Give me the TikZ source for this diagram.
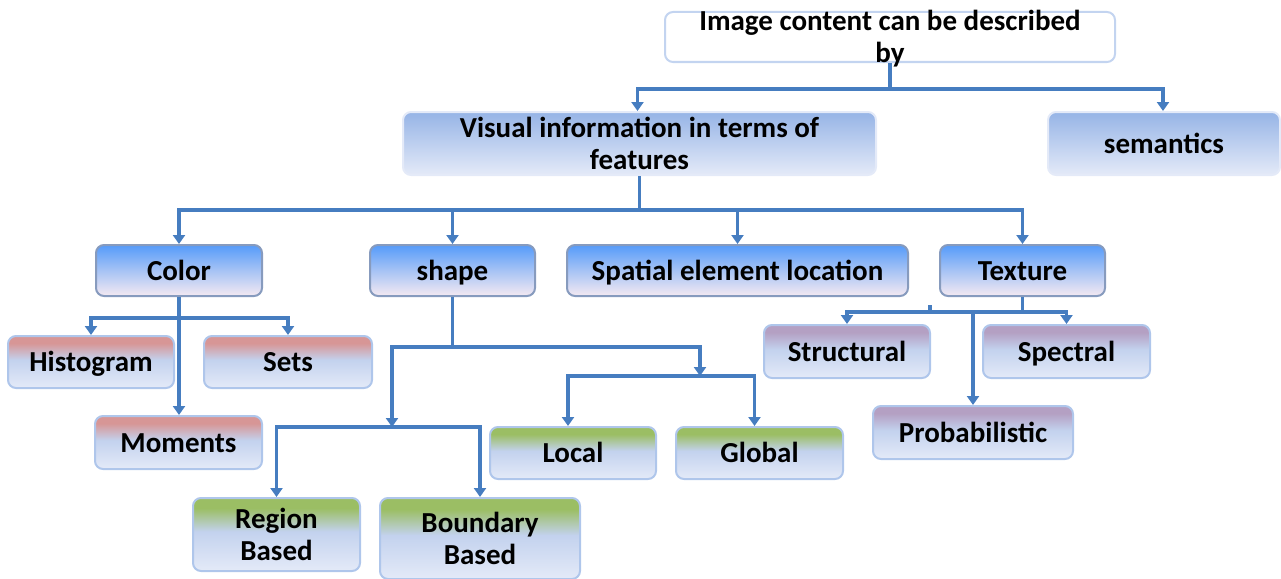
\documentclass[tikz,border=0pt]{standalone}
\usepackage{fontspec}
\setmainfont{Carlito}
\usetikzlibrary{arrows.meta}
\definecolor{conn}{RGB}{70,125,192}
\definecolor{bordA}{RGB}{135,155,190}
\definecolor{bordB}{RGB}{175,198,235}
\definecolor{topbord}{RGB}{195,212,240}
\definecolor{l1bot}{RGB}{228,234,248}
\definecolor{l1top}{RGB}{150,180,230}
\pgfdeclareverticalshading{lvlone}{100bp}{color(0bp)=(l1bot); color(25bp)=(l1bot); color(75bp)=(l1top); color(100bp)=(l1top)}
\definecolor{b1}{RGB}{238,230,242}
\definecolor{b2}{RGB}{160,192,245}
\definecolor{b3}{RGB}{85,155,250}
\pgfdeclareverticalshading{lvltwo}{100bp}{color(0bp)=(b1); color(27bp)=(b1); color(52bp)=(b2); color(75bp)=(b3); color(100bp)=(b3)}
\definecolor{lb}{RGB}{228,234,248}
\definecolor{mb}{RGB}{195,210,238}
\definecolor{rtop}{RGB}{215,150,150}
\definecolor{gtop}{RGB}{155,190,100}
\definecolor{ptop}{RGB}{180,160,195}
\pgfdeclareverticalshading{redsh}{100bp}{color(0bp)=(lb); color(25bp)=(lb); color(52bp)=(mb); color(68bp)=(rtop); color(100bp)=(rtop)}
\pgfdeclareverticalshading{greensh}{100bp}{color(0bp)=(lb); color(25bp)=(lb); color(52bp)=(mb); color(68bp)=(gtop); color(100bp)=(gtop)}
\pgfdeclareverticalshading{purpsh}{100bp}{color(0bp)=(lb); color(25bp)=(lb); color(52bp)=(mb); color(68bp)=(ptop); color(100bp)=(ptop)}
\begin{document}
\begin{tikzpicture}[x=1pt,y=-1pt,
  txt/.style={font=\fontsize{29}{32}\selectfont\bfseries, text=black, align=center},
  box/.style={txt, rounded corners=8pt, inner sep=0pt, line width=2pt},
  oneline/.style={text height=25pt, text depth=6pt},
  topbox/.style={box, draw=topbord, fill=white},
  lone/.style={box, draw=lb, shading=lvlone},
  ltwo/.style={box, oneline, draw=bordA, shading=lvltwo},
  redbox/.style={box, draw=bordB, shading=redsh},
  greenbox/.style={box, draw=bordB, shading=greensh},
  purpbox/.style={box, oneline, draw=bordB, shading=purpsh},
  line/.style={draw=conn, line width=3.4pt},
  arr/.style={line, -{Triangle[width=12pt,length=9pt]}}
]
\useasboundingbox (0,0) rectangle (1281,578);
% nodes
\node[topbox, minimum width=450pt, minimum height=50pt] (top) at (890,37) {};
\node[txt] (toptext) at (890,39) {Image content can be described\\by};
\node[lone, minimum width=473pt, minimum height=63pt] (vis) at (639.5,143.5) {Visual information in terms of\\features};
\node[lone, oneline, minimum width=232pt, minimum height=63pt] (sem) at (1164,143.5) {semantics};
\node[ltwo, minimum width=166pt, minimum height=51pt] (color) at (179,270.5) {Color};
\node[ltwo, minimum width=165pt, minimum height=51pt] (shape) at (452.5,270.5) {shape};
\node[ltwo, minimum width=341pt, minimum height=51pt] (spatial) at (737.5,270.5) {Spatial element location};
\node[ltwo, minimum width=165pt, minimum height=51pt] (texture) at (1022.5,270.5) {Texture};
\node[redbox, oneline, minimum width=166pt, minimum height=52pt] (hist) at (91,362) {Histogram};
\node[redbox, oneline, minimum width=168pt, minimum height=52pt] (sets) at (288,362) {Sets};
\node[redbox, oneline, minimum width=167pt, minimum height=53pt] (mom) at (178.5,442.5) {Moments};
\node[greenbox, minimum width=167pt, minimum height=73pt] (region) at (276.5,534.5) {Region\\Based};
\node[greenbox, minimum width=200pt, minimum height=81pt] (bound) at (480,538.5) {Boundary\\Based};
\node[greenbox, oneline, minimum width=166pt, minimum height=52pt] (local) at (573,453) {Local};
\node[greenbox, oneline, minimum width=167pt, minimum height=52pt] (global) at (759.5,453) {Global};
\node[purpbox, minimum width=166pt, minimum height=53pt] (struct) at (847,351.5) {Structural};
\node[purpbox, minimum width=167pt, minimum height=53pt] (spec) at (1066.5,351.5) {Spectral};
\node[purpbox, minimum width=200pt, minimum height=53pt] (prob) at (973,432.5) {Probabilistic};
% junctions
\coordinate (jL) at (392,427);
\coordinate (jR) at (700,376);
\coordinate (jT) at (973,311);
% connectors
\draw[arr] (top.south) -- ++(0,26) -| ([xshift=-2pt]vis.north);
\draw[arr] (top.south) -- ++(0,26) -| ([xshift=-1pt]sem.north);
\draw[arr] (vis.south) -- ++(0,34) -| (color.north);
\draw[arr] (vis.south) -- ++(0,34) -| (shape.north);
\draw[arr] (vis.south) -- ++(0,34) -| (spatial.north);
\draw[arr] (vis.south) -- ++(0,34) -| (texture.north);
\draw[arr] (color.south) -- (color.south |- mom.north);
\draw[arr] (color.south) -- ++(0,21) -| (hist.north);
\draw[arr] (color.south) -- ++(0,21) -| (sets.north);
\draw[arr] (shape.south) -- ++(0,50) -| (jL);
\draw[arr] (shape.south) -- ++(0,50) -| (jR);
\draw[arr] (jL) -| (region.north);
\draw[arr] (jL) -| (bound.north);
\draw[arr] (jR) -| ([xshift=-5pt]local.north);
\draw[arr] (jR) -| ([xshift=-5pt]global.north);
\draw[arr] (texture.south) -- ++(0,15) -| (struct.north);
\draw[arr] (texture.south) -- ++(0,15) -| (spec.north);
\draw[arr] (jT) -- (prob.north);
\draw[line] (930,305) -- (930,311);
\end{tikzpicture}
\end{document}
